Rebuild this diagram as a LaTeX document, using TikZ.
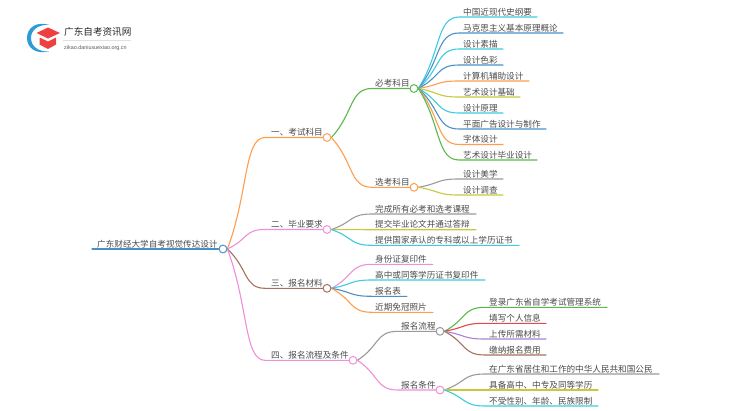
\documentclass[tikz,border=0pt]{standalone}
\usepackage{fontspec}
\setmainfont{Noto Sans CJK SC}
\setsansfont{Liberation Sans}
\usetikzlibrary{backgrounds,calc}
\definecolor{cBlue}{HTML}{4A90C8}
\definecolor{cOrange}{HTML}{FF9D4D}
\definecolor{cPink}{HTML}{F08FD8}
\definecolor{cBrown}{HTML}{A5705F}
\definecolor{cGreen}{HTML}{5AB84A}
\definecolor{cCyan}{HTML}{3CCBE0}
\definecolor{cGray}{HTML}{9A9A9A}
\definecolor{cOlive}{HTML}{C8C83C}
\definecolor{cRed}{HTML}{E04A4A}
\definecolor{cPurple}{HTML}{A97FD8}
\definecolor{cText}{HTML}{4A4A4A}
\definecolor{cLogo}{HTML}{2E9BD6}
\definecolor{cCap}{HTML}{EE4040}
\tikzset{
  lbl/.style={anchor=base west,inner sep=0pt,text=cText,font=\fontsize{8.6}{10}\selectfont},
  hub/.style={circle,draw=#1,fill=white,line width=1pt,minimum size=7.8pt,inner sep=0pt},
  wire/.style={line width=1.1pt,line cap=round},
}
% \leaf{name}{parent}{colour}{curve end x}{underline end x}{y}{text x}{text}
\newcommand{\leaf}[8]{%
  \coordinate (#1s) at (#4,#6);
  \coordinate (#1e) at (#5,#6);
  \node[lbl] (#1) at (#7,#6-2) {#8};
  \begin{pgfonlayer}{background}
    \draw[wire,#3] (#2.east) .. controls ($(#2.east)!0.5!(#1s-|#2.east)+(0.5*#4-0.5*\csname hubx#2\endcsname,0)$) and ($(#1s)+(-0.5*#4+0.5*\csname hubx#2\endcsname,0)$) .. (#1s) -- (#1e);
  \end{pgfonlayer}
}
\begin{document}
\begin{tikzpicture}[x=1pt,y=-1pt]
\useasboundingbox (0,0) rectangle (750,410);
% hubs
\def\hubxroot{223}\def\hubxa{327}\def\hubxb{327}\def\hubxc{327}\def\hubxd{353}
\def\hubxaa{414}\def\hubxab{414}\def\hubxda{440}\def\hubxdb{440}
\node[hub=cBlue] (root) at (223,249) {};
\node[hub=cOrange] (a) at (327,137.5) {};
\node[hub=cPink] (b) at (327,229.5) {};
\node[hub=cBrown] (c) at (327,288.3) {};
\node[hub=cPink] (d) at (353,360.3) {};
\node[hub=cGreen] (aa) at (414,88.5) {};
\node[hub=cOrange] (ab) at (414,187.3) {};
\node[hub=cGray] (da) at (440,331.3) {};
\node[hub=cPink] (db) at (440,390) {};
% root stem
\coordinate (rootstart) at (92,249);
\node[lbl] (roott) at (97,247) {广东财经大学自考视觉传达设计};
\begin{pgfonlayer}{background}
\draw[wire,cBlue] (rootstart) -- (root.west);
\end{pgfonlayer}
% level 1
\leaf{at}{root}{cOrange}{265}{323.5}{137.5}{271}{一、考试科目}
\leaf{bt}{root}{cPink}{265}{323.5}{229.5}{271}{二、毕业要求}
\leaf{ct}{root}{cBrown}{265}{323.5}{288.3}{271}{三、报名材料}
\leaf{dt}{root}{cPink}{265}{349.5}{360.3}{271}{四、报名流程及条件}
% level 2
\leaf{aat}{a}{cGreen}{372}{410.5}{88.5}{375}{必考科目}
\leaf{abt}{a}{cOrange}{372}{410.5}{187.3}{375}{选考科目}
\leaf{dat}{d}{cGray}{398}{436.5}{331.3}{401}{报名流程}
\leaf{dbt}{d}{cPink}{398}{436.5}{390}{401}{报名条件}
% required subjects
\leaf{l1}{aa}{cCyan}{459}{537}{17}{463}{中国近现代史纲要}
\leaf{l2}{aa}{cBlue}{459}{563}{33}{463}{马克思主义基本原理概论}
\leaf{l3}{aa}{cCyan}{459}{503}{49}{463}{设计素描}
\leaf{l4}{aa}{cBlue}{459}{503}{65}{463}{设计色彩}
\leaf{l5}{aa}{cOrange}{459}{529}{81}{463}{计算机辅助设计}
\leaf{l6}{aa}{cOlive}{459}{520}{97}{463}{艺术设计基础}
\leaf{l7}{aa}{cCyan}{459}{503}{113}{463}{设计原理}
\leaf{l8}{aa}{cBlue}{459}{546}{129}{463}{平面广告设计与制作}
\leaf{l9}{aa}{cOrange}{459}{503}{144.5}{463}{字体设计}
\leaf{l10}{aa}{cGreen}{459}{537}{160}{463}{艺术设计毕业设计}
% optional subjects
\leaf{o1}{ab}{cGray}{459}{503}{179}{463}{设计美学}
\leaf{o2}{ab}{cOlive}{459}{503}{195}{463}{设计调查}
% graduation
\leaf{g1}{b}{cGray}{372}{476}{214}{375}{完成所有必考和选考课程}
\leaf{g2}{b}{cOlive}{372}{476}{229.7}{375}{提交毕业论文并通过答辩}
\leaf{g3}{b}{cCyan}{372}{519}{245.3}{375}{提供国家承认的专科或以上学历证书}
% materials
\leaf{m1}{c}{cPink}{372}{433}{264.3}{375}{身份证复印件}
\leaf{m2}{c}{cCyan}{372}{485}{280}{375}{高中或同等学历证书复印件}
\leaf{m3}{c}{cBlue}{372}{407}{296.3}{375}{报名表}
\leaf{m4}{c}{cOrange}{372}{433}{312.3}{375}{近期免冠照片}
% process
\leaf{p1}{da}{cGreen}{485}{607}{307.3}{489}{登录广东省自学考试管理系统}
\leaf{p2}{da}{cRed}{485}{546}{323.3}{489}{填写个人信息}
\leaf{p3}{da}{cPurple}{485}{546}{339}{489}{上传所需材料}
\leaf{p4}{da}{cBrown}{485}{546}{355}{489}{缴纳报名费用}
% conditions
\leaf{q1}{db}{cGray}{485}{659}{374}{489}{在广东省居住和工作的中华人民共和国公民}
\leaf{q2}{db}{cOlive}{485}{598}{390}{489}{具备高中、中专及同等学历}
\leaf{q3}{db}{cCyan}{485}{598}{406}{489}{不受性别、年龄、民族限制}
% logo
\fill[cLogo] (49,24.8) .. controls (36,21) and (27,28) .. (27,38) .. controls (27,48) and (36,54.5) .. (49,51.5) .. controls (38,52) and (31,46) .. (31,38) .. controls (31,30) and (38,24.5) .. (49,24.8) -- cycle;
\fill[cCap] (36.5,33) -- (48,27.5) -- (60,33) -- (48,38.5) -- cycle;
\fill[cCap] (39.5,37.5) -- (48,41.5) -- (56,37.5) -- (56,44.5) -- (48,49) -- (39.5,44.5) -- cycle;
\node[anchor=base west,inner sep=0pt,text=black!85,font=\fontsize{9.6}{10}\selectfont] (logot) at (64,35.5) {广东自考资讯网};
\node[anchor=base west,inner sep=0pt,text=black!65,font=\sffamily\fontsize{5.4}{6}\selectfont] (logou) at (64,49) {zikao.daniuxuexiao.org.cn};
\coordinate (logol) at (63,40.3);
\coordinate (logor) at (131,40.3);
\draw[black!12,line width=0.5pt] (logol) -- (logor);
\end{tikzpicture}
\end{document}
